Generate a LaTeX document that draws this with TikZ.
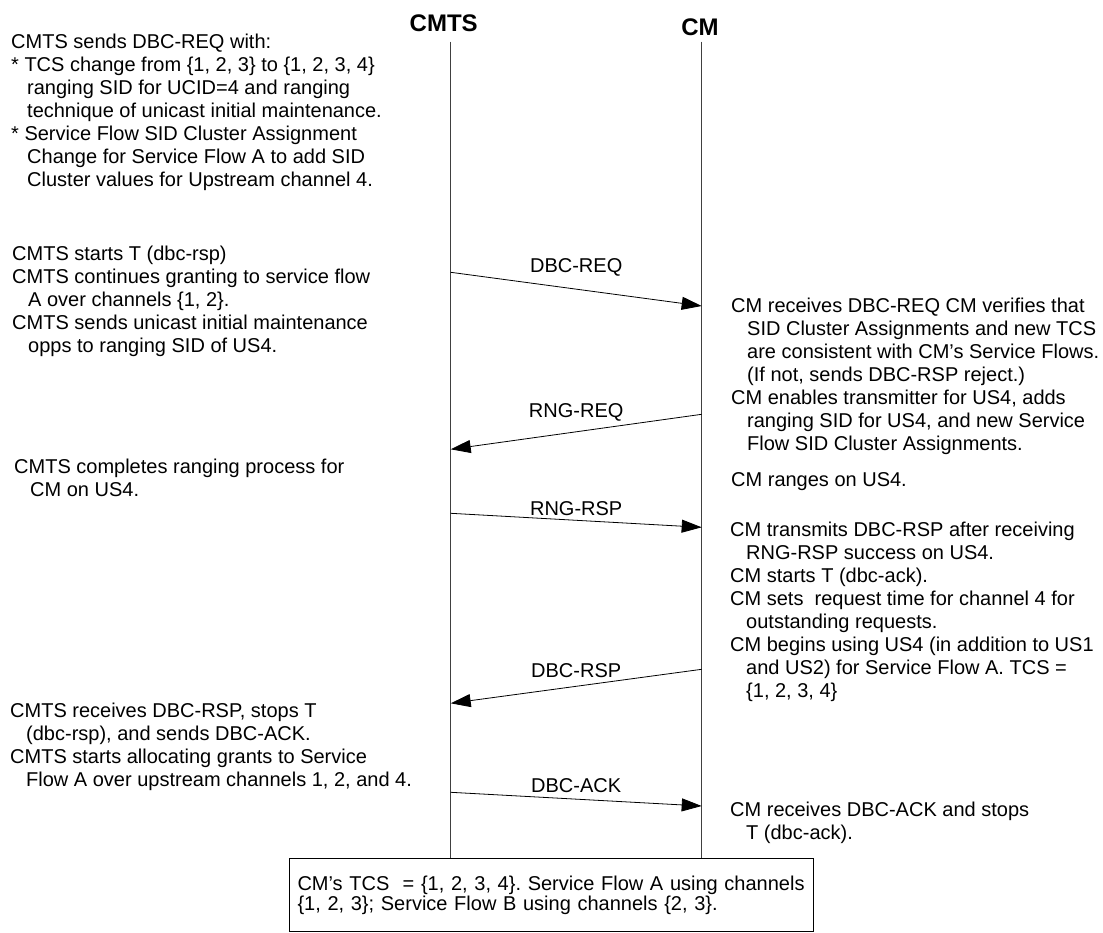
\documentclass[tikz,border=0pt]{standalone}
\usepackage{fontspec}
\setmainfont{Liberation Sans}
\usetikzlibrary{arrows.meta}

\newcommand{\ind}{\hspace*{16pt}}
\frenchspacing
\hyphenpenalty=10000

\begin{document}
\begin{tikzpicture}[x=1pt, y=-1pt, >={Triangle[length=20pt,width=13pt]},
  font=\fontsize{20}{23}\selectfont,
  lifeline/.style={draw=black!75, line width=1pt},
  msg/.style={->, line width=0.8pt},
  note/.style={anchor=north west, align=left, inner sep=0pt}]
  \useasboundingbox (0,0) rectangle (1103,933);

  % Entities
  \node[font=\fontsize{24}{28}\selectfont\bfseries, inner sep=0pt] (cmts) at (443.7,23) {CMTS};
  \node[font=\fontsize{24}{28}\selectfont\bfseries, inner sep=0pt] (cm) at (700,27.5) {CM};
  \coordinate (cmts top) at (450.7,41.7);
  \coordinate (cm top) at (701.7,41.7);

  % Resulting state
  \node[draw, line width=1pt, anchor=north west, minimum width=524pt, minimum height=73pt,
        text width=508pt, align=left, inner xsep=8pt, inner ysep=0pt,
        font=\fontsize{20}{19.5}\selectfont] (tcs) at (289,858.3)
    {CM’s TCS\ \ = \{1, 2, 3, 4\}. Service Flow A using channels\\
     \{1, 2, 3\}; Service Flow B using channels \{2, 3\}.};

  % Lifelines
  \draw[lifeline] (cmts top) -- (cmts top |- tcs.north);
  \draw[lifeline] (cm top) -- (cm top |- tcs.north);

  % Messages
  \coordinate (dbcreq a) at (cmts top |- 0,272.3);
  \coordinate (dbcreq b) at (cm top |- 0,306);
  \coordinate (rngreq a) at (cm top |- 0,414.3);
  \coordinate (rngreq b) at (cmts top |- 0,449.3);
  \coordinate (rngrsp a) at (cmts top |- 0,513.3);
  \coordinate (rngrsp b) at (cm top |- 0,527.3);
  \coordinate (dbcrsp a) at (cm top |- 0,669.3);
  \coordinate (dbcrsp b) at (cmts top |- 0,703.3);
  \coordinate (dbcack a) at (cmts top |- 0,792.3);
  \coordinate (dbcack b) at (cm top |- 0,806);
  \draw[msg] (dbcreq a) -- (dbcreq b) node[midway, above=9pt] {DBC-REQ};
  \draw[msg] (rngreq a) -- (rngreq b) node[midway, above=7pt] {RNG-REQ};
  \draw[msg] (rngrsp a) -- (rngrsp b) node[midway, above=1pt] {RNG-RSP};
  \draw[msg] (dbcrsp a) -- (dbcrsp b) node[midway, above=5pt] {DBC-RSP};
  \draw[msg] (dbcack a) -- (dbcack b) node[midway, above=3pt] {DBC-ACK};

  % CMTS side notes
  \node[note] (sendreq) at (11,33.7) {CMTS sends DBC-REQ with:\\
    {*} TCS change from \{1, 2, 3\} to \{1, 2, 3, 4\}\\
    \ind ranging SID for UCID=4 and ranging\\
    \ind technique of unicast initial maintenance.\\
    {*} Service Flow SID Cluster Assignment\\
    \ind Change for Service Flow A to add SID\\
    \ind Cluster values for Upstream channel 4.};
  \node[note] (starttimer) at (12,245.4) {CMTS starts T (dbc-rsp)\\
    CMTS continues granting to service flow\\
    \ind A over channels \{1, 2\}.\\
    CMTS sends unicast initial maintenance\\
    \ind opps to ranging SID of US4.};
  \node[note] (ranging) at (14,458.4) {CMTS completes ranging process for\\
    \ind CM on US4.};
  \node[note] (gotrsp) at (10,702.7) {CMTS receives DBC-RSP, stops T\\
    \ind (dbc-rsp), and sends DBC-ACK.\\
    CMTS starts allocating grants to Service\\
    \ind Flow A over upstream channels 1, 2, and 4.};

  % CM side notes
  \node[note] (gotreq) at (731,297.7) {CM receives DBC-REQ CM verifies that\\
    \ind SID Cluster Assignments and new TCS\\
    \ind are consistent with CM’s Service Flows.\\
    \ind (If not, sends DBC-RSP reject.)\\
    CM enables transmitter for US4, adds\\
    \ind ranging SID for US4, and new Service\\
    \ind Flow SID Cluster Assignments.};
  \node[note] (cmranges) at (731,472.5) {CM ranges on US4.};
  \node[note] (sendrsp) at (730,521.7) {CM transmits DBC-RSP after receiving\\
    \ind RNG-RSP success on US4.\\
    CM starts T (dbc-ack).\\
    CM sets\ \ request time for channel 4 for\\
    \ind outstanding requests.\\
    CM begins using US4 (in addition to US1\\
    \ind and US2) for Service Flow A. TCS =\\
    \ind \{1, 2, 3, 4\}};
  \node[note] (gotack) at (730,802) {CM receives DBC-ACK and stops\\
    \ind T (dbc-ack).};
\end{tikzpicture}
\end{document}
